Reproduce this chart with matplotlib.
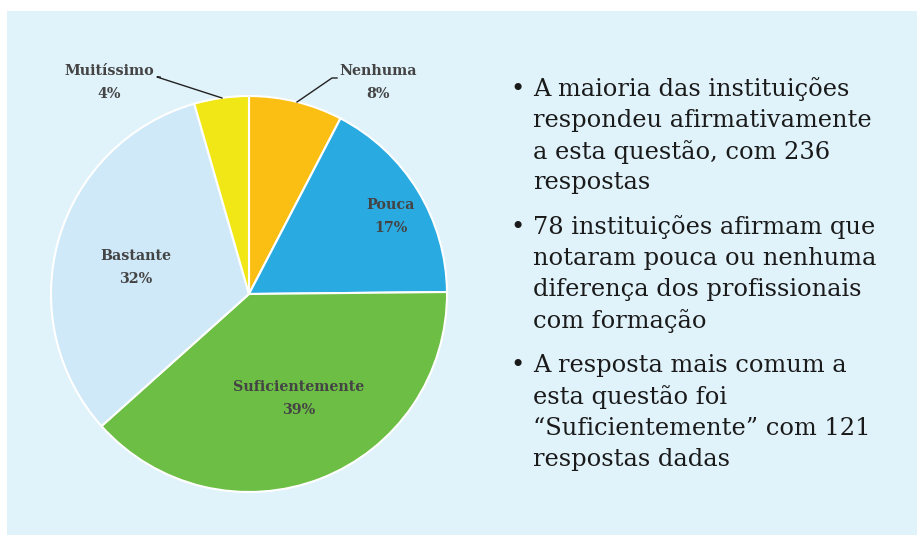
import matplotlib
matplotlib.use("Agg")
import matplotlib.pyplot as plt
from matplotlib.patches import Rectangle

categories = ["Nenhuma", "Pouca", "Suficientemente", "Bastante", "Muitíssimo"]
responses = [24, 54, 121, 101, 14]
colors = ["#FBBF14", "#29ABE2", "#6DBE45", "#CFE9F9", "#F2E716"]

bullets = [
    ["A maioria das instituições", "respondeu afirmativamente",
     "a esta questão, com 236", "respostas"],
    ["78 instituições afirmam que", "notaram pouca ou nenhuma",
     "diferença dos profissionais", "com formação"],
    ["A resposta mais comum a", "esta questão foi",
     "\u201cSuficientemente\u201d com 121", "respostas dadas"],
]

W, H = 918, 535
fig = plt.figure(figsize=(W / 100, H / 100), dpi=100, facecolor="white")
ax = fig.add_axes([0, 0, 1, 1])
ax.set_xlim(0, W)
ax.set_ylim(0, H)
ax.set_aspect("equal")
ax.axis("off")

ax.add_patch(Rectangle((7, 0), 910, H - 11, facecolor="#E0F2FA", edgecolor="none", zorder=0))

cx, cy, r = 249, H - 294, 198
ax.pie(responses, colors=colors, startangle=90, counterclock=False,
       center=(cx, cy), radius=r, frame=True,
       wedgeprops=dict(edgecolor="white", linewidth=1.5))
ax.set_xlim(0, W)
ax.set_ylim(0, H)
ax.axis("off")

total = sum(responses)
pcts = [round(v * 100 / total) for v in responses]

label_pos = {
    "Nenhuma": (378, 71),
    "Pouca": (391, 205),
    "Suficientemente": (299, 387),
    "Bastante": (136, 256),
    "Muitíssimo": (109, 71),
}
lab_font = dict(family="DejaVu Serif", weight="bold", size=10.3, color="#444444")
for cat, p in zip(categories, pcts):
    x, y = label_pos[cat]
    ax.text(x, H - y, cat, ha="center", va="center", **lab_font)
    ax.text(x, H - y - 23, f"{p}%", ha="center", va="center", **lab_font)

# leader lines
ax.plot([160, 157, 222], [H - 77, H - 77, H - 98], color="#222222", lw=1)
ax.plot([337, 332, 297], [H - 78, H - 78, H - 102], color="#222222", lw=1)

txt_font = dict(family="DejaVu Serif", size=17.4, color="#1a1a1a")
y = 89
for para in bullets:
    ax.text(517, H - y, "\u2022", ha="center", va="center", **txt_font)
    for line in para:
        ax.text(533, H - y, line, ha="left", va="center", **txt_font)
        y += 31.3
    y += 13

fig.savefig("out.png", dpi=100, facecolor="white")
